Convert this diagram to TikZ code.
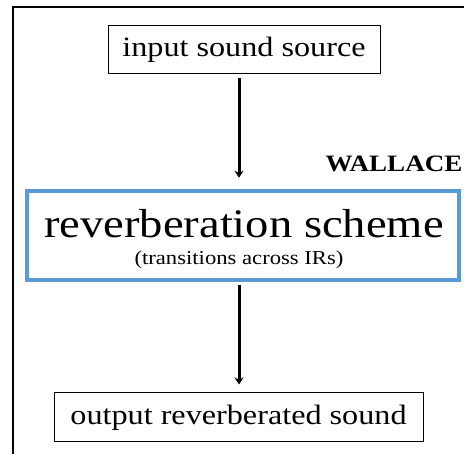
\documentclass[tikz,border=0pt]{standalone}
\usepackage{fontspec}
\setmainfont{Liberation Serif}[FakeStretch=1.15]
\usetikzlibrary{arrows.meta}
\definecolor{boxblue}{RGB}{91,155,213}
\tikzset{
  plainbox/.style={draw=black, line width=1pt, inner sep=0pt, font=\fontsize{28}{30}\selectfont},
  bluebox/.style={draw=boxblue, line width=4.5pt, inner sep=0pt},
  arr/.style={line width=3pt, -{Stealth[length=7pt,width=9pt]}}
}
\begin{document}
\begin{tikzpicture}[x=1pt,y=1pt]
\useasboundingbox (0,0) rectangle (464,-454);
\clip (0,0) rectangle (464,-454);
\fill[white] (0,0) rectangle (464,-454);
\draw[line width=1.5pt] (13,-7) rectangle (480,-470);
\node[plainbox, minimum width=272pt, minimum height=48pt] (in) at (244,-50) {input sound source};
\node[bluebox, minimum width=432pt, minimum height=89pt] (rs) at (243,-235.5) {};
\node[inner sep=0pt, anchor=base, font=\fontsize{40.5}{42}\selectfont] (t1) at (244,-238) {reverberation scheme};
\node[inner sep=0pt, anchor=base, font=\fontsize{19.7}{21}\selectfont] (t2) at (239,-265) {(transitions across IRs)};
\node[inner sep=0pt, anchor=base east, font=\bfseries\fontsize{23.5}{25}\selectfont] (wal) at (462.5,-172) {WALLACE};
\node[plainbox, minimum width=369pt, minimum height=49pt] (out) at (238.5,-417.5) {output reverberated sound};
\draw[arr] ([xshift=-5pt,yshift=-4pt]in.south) -- ([xshift=-4pt,yshift=11pt]rs.north);
\draw[arr] ([xshift=-4pt,yshift=-3pt]rs.south) -- ([xshift=0.5pt,yshift=8pt]out.north);
\end{tikzpicture}
\end{document}
